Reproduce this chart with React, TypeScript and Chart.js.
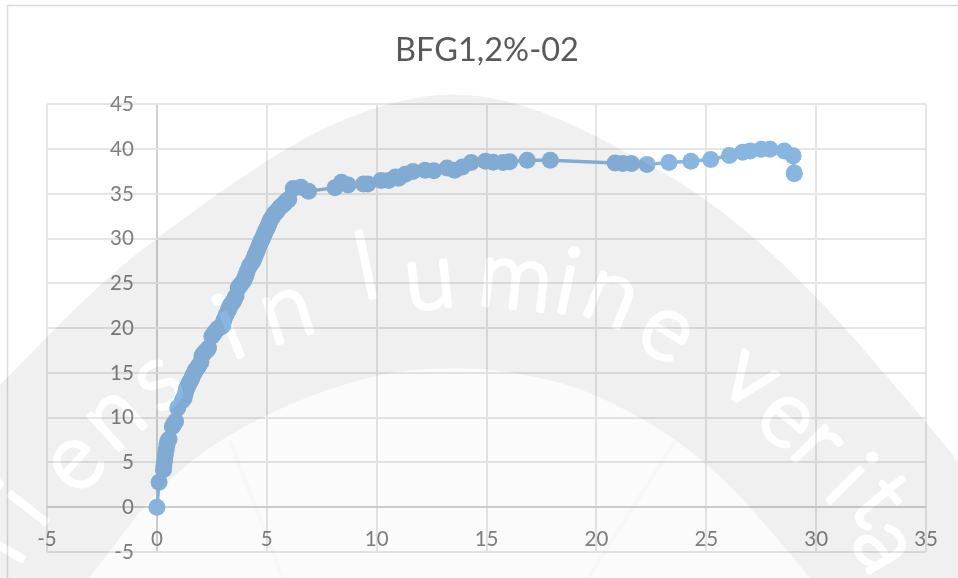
import React, { useEffect, useRef } from "react";
import { Chart, registerables } from "chart.js";

Chart.register(...registerables);

const TITLE = "BFG1,2%-02";

const strainX = [
  0, 0.1, 0.3, 0.32, 0.35, 0.38, 0.42, 0.46, 0.5, 0.55, 0.7, 0.75, 0.8, 0.85, 0.95, 1.15, 1.2, 1.25, 1.3, 1.35, 1.4, 1.45,
  1.5, 1.55, 1.6, 1.65, 1.7, 1.75, 1.85, 1.9, 2.0, 2.05, 2.1, 2.2, 2.3, 2.35, 2.5, 2.6, 2.65, 2.75, 2.8, 2.95, 3.0, 3.05, 3.15, 3.25, 3.3, 3.35, 3.45, 3.5, 3.55, 3.6, 3.7, 3.75, 3.85, 3.95, 4.0,
  4.05, 4.1, 4.2, 4.25, 4.35, 4.4, 4.45, 4.5, 4.55, 4.6, 4.65, 4.7, 4.75, 4.8, 4.85, 4.9, 4.95, 5.0, 5.05, 5.1, 5.15, 5.2, 5.25, 5.3, 5.35, 5.45, 5.5, 5.6, 5.7, 5.8, 5.85, 5.95, 6.0, 6.2, 6.55, 6.9,
  8.1, 8.4, 8.7, 9.4, 9.6, 10.2, 10.55, 10.85, 11.0, 11.3, 11.65, 12.2, 12.6, 13.2, 13.55, 13.9, 14.3, 14.95, 15.3, 15.75,
  16.05, 16.85, 17.9, 20.85, 21.2, 21.6, 22.3, 23.3, 24.3, 25.2, 26.05, 26.65, 27.0, 27.5, 27.9, 28.55, 28.95, 29.0, 29.0,
];
const stressY = [
  0, 2.8, 4.2, 4.6, 5.2, 5.8, 6.4, 7.0, 7.4, 7.6, 9.0, 9.2, 9.4, 9.6, 11.1, 11.9, 12.1, 12.3, 12.8, 13.3, 13.5, 13.8,
  14.0, 14.2, 14.5, 14.8, 15.0, 15.3, 15.6, 15.8, 16.2, 16.9, 17.1, 17.4, 17.6, 17.8, 19.1, 19.4, 19.6, 19.9, 20.0, 20.2, 20.3, 20.9, 21.5, 22.0, 22.3, 22.6, 22.9, 23.1, 23.4, 23.6, 24.5, 24.7, 25.0, 25.3, 25.6,
  25.9, 26.3, 26.9, 27.1, 27.4, 27.7, 28.0, 28.3, 28.6, 28.9, 29.2, 29.5, 29.8, 30.0, 30.3, 30.6, 30.9, 31.1, 31.4, 31.7, 32.0, 32.2, 32.4, 32.6, 32.8, 33.0, 33.2, 33.5, 33.7, 33.9, 34.1, 34.3, 34.4, 35.6, 35.75, 35.3,
  35.7, 36.3, 36.0, 36.1, 36.1, 36.5, 36.5, 36.9, 36.75, 37.2, 37.5, 37.65, 37.6, 37.9, 37.65, 38.0, 38.5, 38.65, 38.55, 38.5,
  38.6, 38.75, 38.75, 38.45, 38.4, 38.4, 38.3, 38.5, 38.65, 38.85, 39.3, 39.65, 39.8, 40.0, 40.0, 39.8, 39.25, 37.35, 37.25,
];

const xTicksMin = -5, xTicksMax = 35, yTicksMin = -5, yTicksMax = 45, tickStep = 5;

// Decorative background watermark of the reference (not data)
const outerArc: [number, number][] = [[-20, 405], [0, 385], [93, 290], [157, 237], [283, 148], [370, 107], [450, 91], [525, 104], [595, 135], [705, 195], [811, 288], [925, 421], [958, 461], [980, 490]];
const innerArc: [number, number][] = [[70, 600], [90, 578], [167, 475], [267, 411], [377, 373], [450, 367], [511, 371], [595, 391], [708, 458], [811, 578], [825, 600]];
const glyphs: [string, number, number, number][] = [
  ["r", 6, 542, -60], ["i", 28, 508, -52], ["e", 77, 465, -48], ["n", 117, 421, -42], ["s", 160, 385, -35], ["i", 232, 335, -22], ["n", 288, 316, -18],
  ["l", 368, 275, -12], ["u", 430, 285, -6], ["m", 515, 285, 6], ["i", 566, 290, 12], ["n", 610, 300, 22], ["e", 665, 335, 32],
  ["v", 748, 381, 35], ["e", 785, 421, 40], ["r", 815, 448, 45], ["i", 845, 485, 45], ["t", 875, 505, 50], ["a", 881, 548, 60],
];
const GLYPH_SIZE = 92;

function tracePath(c: CanvasRenderingContext2D, pts: [number, number][]) {
  c.moveTo(pts[0][0], pts[0][1]);
  for (let i = 1; i < pts.length - 1; i++) {
    const mx = (pts[i][0] + pts[i + 1][0]) / 2;
    const my = (pts[i][1] + pts[i + 1][1]) / 2;
    c.quadraticCurveTo(pts[i][0], pts[i][1], mx, my);
  }
  const last = pts[pts.length - 1];
  c.lineTo(last[0], last[1]);
  c.lineTo(last[0], 600);
  c.lineTo(pts[0][0], 600);
  c.closePath();
}

function makeWatermark(w: number, h: number) {
  const off = document.createElement("canvas");
  off.width = w;
  off.height = h;
  const c = off.getContext("2d")!;
  c.fillStyle = "#ffffff";
  c.fillRect(0, 0, w, h);
  c.fillStyle = "#f0f0f0";
  c.beginPath();
  tracePath(c, outerArc);
  c.fill();
  c.fillStyle = "#ffffff";
  c.strokeStyle = "#ffffff";
  c.lineWidth = 4;
  c.lineJoin = "round";
  c.font = `300 ${GLYPH_SIZE}px Lato`;
  c.textAlign = "center";
  c.textBaseline = "alphabetic";
  for (const [ch, x, y, a] of glyphs) {
    c.save();
    c.translate(x, y);
    c.rotate((a * Math.PI) / 180);
    c.fillText(ch, 0, GLYPH_SIZE * 0.25);
    c.strokeText(ch, 0, GLYPH_SIZE * 0.25);
    c.restore();
  }
  c.fillStyle = "#fbfbfb";
  c.beginPath();
  tracePath(c, innerArc);
  c.fill();
  c.strokeStyle = "#f7f7f7";
  c.lineWidth = 4;
  c.beginPath();
  c.moveTo(230, 441);
  c.lineTo(283, 578);
  c.moveTo(675, 441);
  c.lineTo(588, 578);
  c.stroke();
  return off;
}

const framePlugin = {
  id: "frame",
  beforeDraw(chart: any) {
    const c = chart.ctx as CanvasRenderingContext2D;
    c.save();
    c.strokeStyle = "#dcdcdc";
    c.lineWidth = 1.5;
    c.beginPath();
    c.moveTo(7.5, 578);
    c.lineTo(7.5, 5.5);
    c.lineTo(958, 5.5);
    c.stroke();
    c.restore();
  },
  afterDraw(chart: any) {
    const c = chart.ctx as CanvasRenderingContext2D;
    c.save();
    c.globalCompositeOperation = "multiply";
    c.drawImage(makeWatermark(chart.width, chart.height), 0, 0);
    c.restore();
  },
};

const gridColor = (strong: string, normal: string) => (ctx: any) => {
  const v = ctx.tick?.value;
  return v === 0 ? strong : normal;
};

export default function App() {
  const ref = useRef<HTMLCanvasElement>(null);
  useEffect(() => {
    document.body.style.margin = "0";
    const chart = new Chart(ref.current!, {
      type: "scatter",
      data: {
        datasets: [
          {
            label: TITLE,
            data: strainX.map((x, i) => ({ x, y: stressY[i] })),
            showLine: true,
            borderColor: "#89b6e1",
            backgroundColor: "#89b6e1",
            borderWidth: 3.5,
            pointRadius: 8.5,
            pointBorderWidth: 0,
            clip: false,
          },
        ],
      },
      options: {
        animation: false,
        responsive: false,
        layout: { padding: { left: 47, right: 31, top: 0, bottom: 26 } },
        plugins: {
          legend: { display: false },
          tooltip: { enabled: false },
          title: {
            display: true,
            text: TITLE,
            color: "#595959",
            font: { family: "Lato", size: 32.5, weight: "normal" },
            padding: { top: 31, bottom: 34.4 },
          },
        },
        scales: {
          x: {
            type: "linear",
            position: { y: 0 } as any,
            min: xTicksMin,
            max: xTicksMax,
            afterFit: (s: any) => {
              s.height = 0;
            },
            ticks: { stepSize: tickStep, color: "#7f7f7f", font: { family: "Lato", size: 20.5 }, padding: 20, maxRotation: 0, autoSkip: false },
            grid: { color: gridColor("#cfcfcf", "#e5e5e5"), lineWidth: 2, drawTicks: false },
            border: { display: false },
          },
          y: {
            type: "linear",
            position: "left",
            min: yTicksMin,
            max: yTicksMax,
            afterFit: (s: any) => {
              s.width = 0;
              s.paddingTop = 0;
              s.paddingBottom = 0;
            },
            ticks: { stepSize: tickStep, color: "#7f7f7f", font: { family: "Lato", size: 20.5 }, mirror: true, crossAlign: "far", padding: 63, autoSkip: false },
            grid: { color: gridColor("#d0d0d0", "#e5e5e5"), lineWidth: 2, drawTicks: false },
            border: { display: false },
          },
        },
      },
      plugins: [framePlugin],
    } as any);
    return () => chart.destroy();
  }, []);
  return (
    <div style={{ position: "absolute", left: 0, top: 0, width: 958, height: 578, overflow: "hidden" }}>
      <canvas ref={ref} width={958} height={578} style={{ display: "block", filter: "blur(0.4px)" }} />
    </div>
  );
}
